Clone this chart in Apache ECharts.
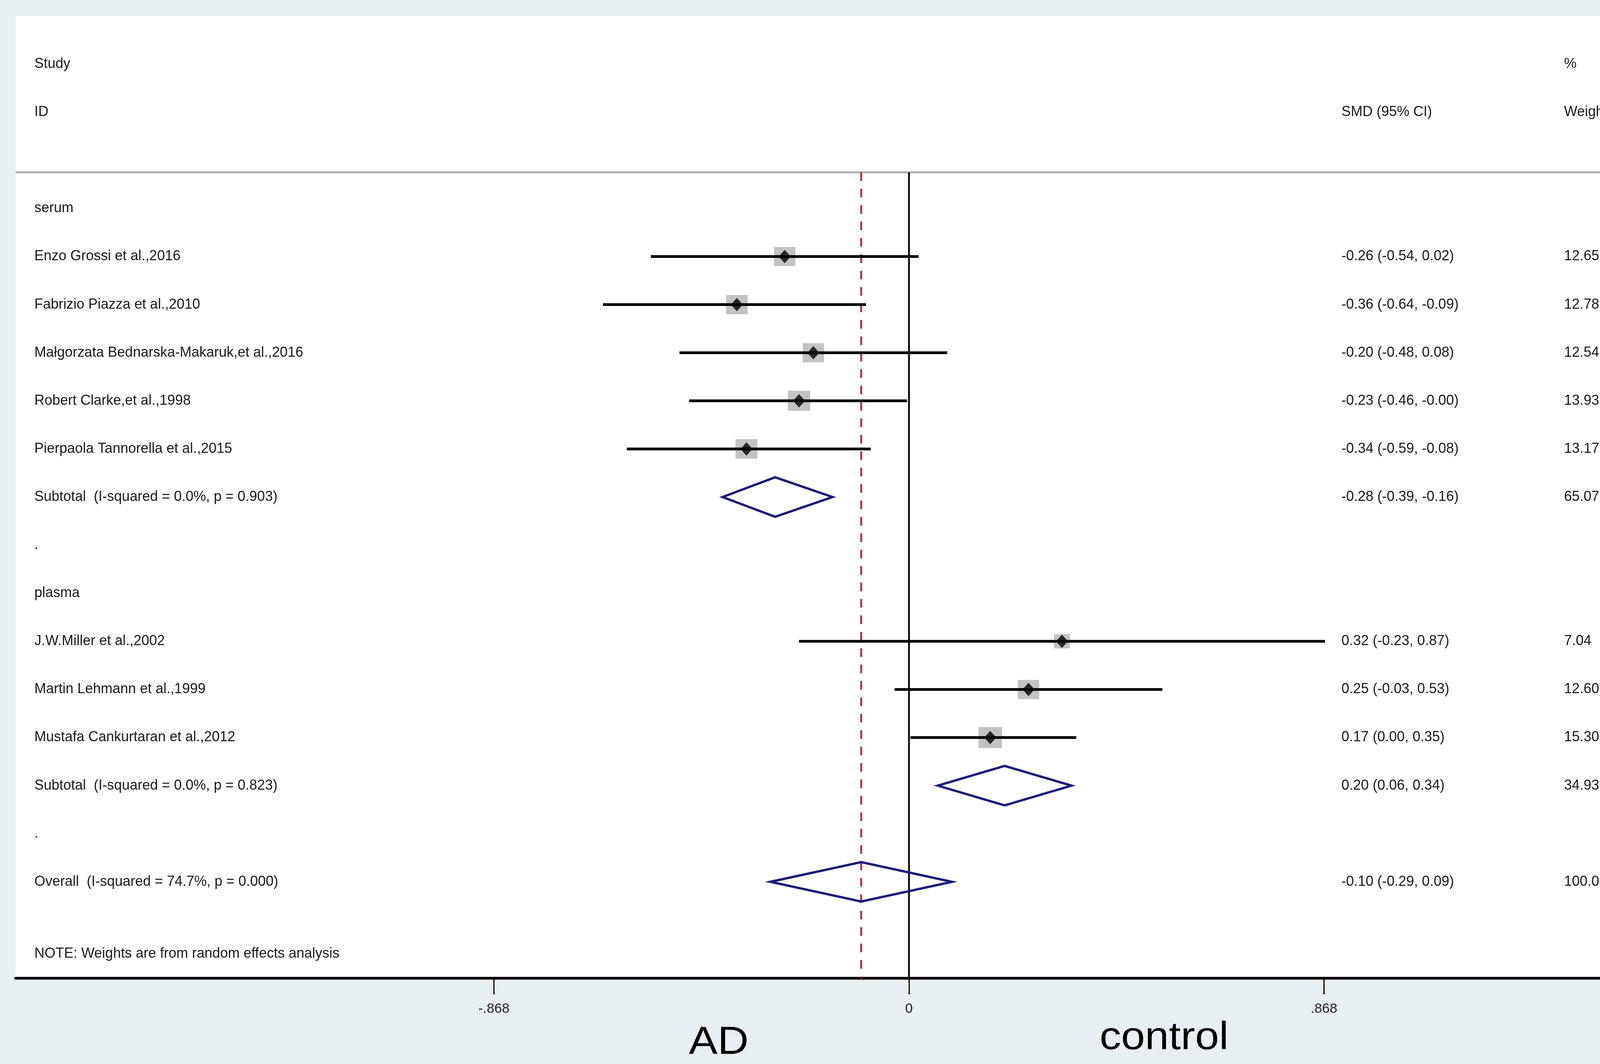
<!DOCTYPE html>
<html>
<head>
<meta charset="utf-8">
<title>forest plot</title>
<script src="https://cdn.jsdelivr.net/npm/echarts@6/dist/echarts.min.js"></script>
<style>
  html, body { margin: 0; padding: 0; background: #f6f9fa; }
  #chart { width: 4317px; height: 2723px; }
</style>
</head>
<body>
<div id="chart"></div>
<script>
// study rows
var studyNames = ['Enzo Grossi et al.,2016', 'Fabrizio Piazza et al.,2010', 'Małgorzata Bednarska-Makaruk,et al.,2016',
  'Robert Clarke,et al.,1998', 'Pierpaola Tannorella et al.,2015', 'J.W.Miller et al.,2002',
  'Martin Lehmann et al.,1999', 'Mustafa Cankurtaran et al.,2012'];
var studySmd = [-0.26, -0.36, -0.20, -0.23, -0.34, 0.32, 0.25, 0.17];
var studyLow = [-0.54, -0.64, -0.48, -0.46, -0.59, -0.23, -0.03, 0.003];
var studyHigh = [0.02, -0.09, 0.08, -0.004, -0.08, 0.87, 0.53, 0.35];
var studyWeight = [12.65, 12.78, 12.54, 13.93, 13.17, 7.04, 12.60, 15.30];
var studyRows = [1, 2, 3, 4, 5, 9, 10, 11];

// subgroup headings
var groupNames = ['serum', 'plasma'];
var groupRows = [0, 8];

// pooled estimates (two subtotals + overall)
var poolNames = ['Subtotal  (I-squared = 0.0%, p = 0.903)', 'Subtotal  (I-squared = 0.0%, p = 0.823)',
  'Overall  (I-squared = 74.7%, p = 0.000)'];
var poolSmd = [-0.28, 0.20, -0.10];
var poolLow = [-0.39, 0.06, -0.29];
var poolHigh = [-0.16, 0.34, 0.09];
var poolWeight = [65.07, 34.93, 100.00];
var poolRows = [6, 12, 14];

var tickValues = [-0.868, 0, 0.868];
var tickLabels = ['-.868', '0', '.868'];

var FAMILY = '"Liberation Sans", Arial, sans-serif';
var FONT = '36px ' + FAMILY;
var colX = { study: 88, smd: 3434, weight: 4004 };
var headerRow = -0.75;
var bottomRow = 16;

function fmt(v) { return v.toFixed(2); }
function ciText(e, lo, hi) { return fmt(e) + ' (' + fmt(lo) + ', ' + fmt(hi) + ')'; }

var texts = [];
function addText(row, x, s) { texts.push({ row: row, x: x, text: s }); }
addText(-3, colX.study, 'Study');
addText(-2, colX.study, 'ID');
addText(-2, colX.smd, 'SMD (95% CI)');
addText(-3, colX.weight, '%');
addText(-2, colX.weight, 'Weight');
groupNames.forEach(function (n, i) { addText(groupRows[i], colX.study, n); });
studyNames.forEach(function (n, i) {
  addText(studyRows[i], colX.study, n);
  addText(studyRows[i], colX.smd, ciText(studySmd[i], studyLow[i], studyHigh[i]));
  addText(studyRows[i], colX.weight, fmt(studyWeight[i]));
});
poolNames.forEach(function (n, i) {
  addText(poolRows[i], colX.study, n);
  addText(poolRows[i], colX.smd, ciText(poolSmd[i], poolLow[i], poolHigh[i]));
  addText(poolRows[i], colX.weight, fmt(poolWeight[i]));
});
addText(7, colX.study, '.');
addText(13, colX.study, '.');
addText(15.5, colX.study, 'NOTE: Weights are from random effects analysis');

var overall = poolSmd[poolSmd.length - 1];
// x, y1, y2, kind
var refLines = [
  [-1.8685, headerRow, 1.5964, 'header'],
  [0, headerRow, bottomRow, 'zero'],
  [overall, headerRow, bottomRow, 'overall']
];

var myChart = echarts.init(document.getElementById('chart'));
var option = {
  animation: false,
  backgroundColor: '#e8eff2',
  grid: { left: 40, right: 36, top: 41, bottom: 220, show: true, backgroundColor: '#fff', borderWidth: 0 },
  xAxis: {
    type: 'value', min: -1.8685, max: 1.5964,
    axisLine: { show: true, onZero: false, lineStyle: { color: '#000', width: 7 } },
    axisTick: { show: true, customValues: tickValues, length: 42, lineStyle: { color: '#000', width: 3 } },
    axisLabel: {
      customValues: tickValues, margin: 62, fontSize: 35, fontFamily: FAMILY, color: '#222',
      formatter: function (v) {
        for (var i = 0; i < tickValues.length; i++) {
          if (Math.abs(v - tickValues[i]) < 1e-6) return tickLabels[i];
        }
        return '';
      }
    },
    splitLine: { show: false }
  },
  yAxis: { type: 'value', inverse: true, min: -4, max: 16, show: false, splitLine: { show: false } },
  graphic: [
    { type: 'text', x: 1840, y: 2669, scaleX: 1.1, style: { text: 'AD', font: '100px ' + FAMILY, fill: '#000', textAlign: 'center', textVerticalAlign: 'middle' } },
    { type: 'text', x: 2980, y: 2657, scaleX: 1.1, style: { text: 'control', font: '100px ' + FAMILY, fill: '#000', textAlign: 'center', textVerticalAlign: 'middle' } }
  ],
  series: [{
    // header separator, null line, overall line
    type: 'custom', silent: true, z: 1,
    data: refLines.map(function (l) { return [l[0], l[1], l[2]]; }),
    renderItem: function (params, api) {
      var l = refLines[params.dataIndex];
      var kind = l[3];
      if (kind == 'header') {
        var a = api.coord([l[0], l[1]]), b = api.coord([l[2], l[1]]);
        return { type: 'line', shape: { x1: a[0], y1: a[1], x2: b[0], y2: b[1] }, style: { stroke: '#ababab', lineWidth: 5 } };
      }
      var p1 = api.coord([l[0], l[1]]), p2 = api.coord([l[0], l[2]]);
      if (kind == 'zero') {
        return { type: 'line', shape: { x1: p1[0], y1: p1[1], x2: p2[0], y2: p2[1] }, style: { stroke: '#000', lineWidth: 4.5 } };
      }
      return { type: 'line', shape: { x1: p1[0], y1: p1[1], x2: p2[0], y2: p2[1] }, style: { stroke: '#a8364c', lineWidth: 5, lineDash: [22, 20] } };
    }
  }, {
    // weight boxes
    type: 'scatter', silent: true, z: 2,
    symbol: 'rect',
    symbolSize: function (val) { var s = Math.sqrt(val[2]); return [15.4 * s, 13.8 * s]; },
    itemStyle: { color: '#b4b4b4' },
    data: studySmd.map(function (v, i) { return [v, studyRows[i], studyWeight[i]]; })
  }, {
    // confidence intervals
    type: 'custom', silent: true, z: 3,
    data: studySmd.map(function (v, i) { return [studyLow[i], studyRows[i], studyHigh[i]]; }),
    renderItem: function (params, api) {
      var a = api.coord([api.value(0), api.value(1)]);
      var b = api.coord([api.value(2), api.value(1)]);
      return { type: 'line', shape: { x1: a[0], y1: a[1], x2: b[0], y2: b[1] }, style: { stroke: '#000', lineWidth: 7 } };
    }
  }, {
    // point estimates
    type: 'scatter', silent: true, z: 4,
    symbol: 'diamond', symbolSize: [31, 34],
    itemStyle: { color: '#000' },
    data: studySmd.map(function (v, i) { return [v, studyRows[i]]; })
  }, {
    // pooled diamonds
    type: 'custom', silent: true, z: 4,
    data: poolSmd.map(function (v, i) { return [v, poolRows[i], poolLow[i], poolHigh[i]]; }),
    renderItem: function (params, api) {
      var e = api.value(0), r = api.value(1), lo = api.value(2), hi = api.value(3), h = 0.41;
      return {
        type: 'polygon',
        shape: { points: [api.coord([lo, r]), api.coord([e, r - h]), api.coord([hi, r]), api.coord([e, r + h])] },
        style: { fill: 'none', stroke: '#1b1b78', lineWidth: 6, lineJoin: 'miter' }
      };
    }
  }, {
    // text columns
    type: 'custom', silent: true, z: 5,
    data: texts.map(function (t) { return [0, t.row]; }),
    renderItem: function (params, api) {
      var t = texts[params.dataIndex];
      var y = api.coord([0, t.row])[1];
      return {
        type: 'text', x: t.x, y: y,
        style: { text: t.text, font: FONT, fill: '#1a1a1a', textAlign: 'left', textVerticalAlign: 'middle', align: 'left', verticalAlign: 'middle' }
      };
    }
  }]
};
myChart.setOption(option);
</script>
</body>
</html>
